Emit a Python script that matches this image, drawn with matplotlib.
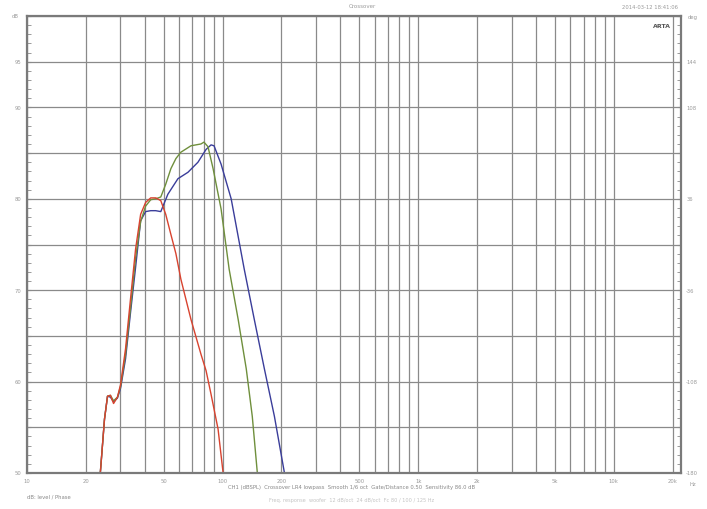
import matplotlib
matplotlib.use("Agg")
import matplotlib.pyplot as plt
from matplotlib.ticker import FixedLocator, NullFormatter, MultipleLocator

# Curvas (frecuencia en Hz, nivel en dB)
frec_rojo = [23.7, 24.9, 25.8, 26.7, 27.7, 29.0, 30.1, 31.9, 33.8, 35.9, 38.1, 40.4, 42.9,
             45.5, 48.3, 51.2, 54.4, 57.7, 61.2, 68.9, 77.5, 82.3, 87.3, 94.8, 100.6]
db_rojo = [50.0, 55.9, 58.4, 58.5, 57.6, 58.3, 59.7, 63.6, 69.0, 74.5, 78.3, 79.6, 80.1,
           80.1, 79.8, 78.3, 76.1, 74.0, 71.2, 66.8, 63.0, 61.2, 58.6, 54.8, 50.0]

frec_verde = [23.7, 24.9, 25.8, 26.7, 27.7, 29.0, 30.1, 31.9, 33.8, 35.9, 38.1, 40.4, 42.9,
              45.5, 48.3, 51.2, 54.4, 57.7, 61.2, 68.9, 77.5, 80.3, 84.2, 89.4, 98.2,
              108.0, 120.1, 132.1, 141.8, 150.5]
db_verde = [50.0, 55.9, 58.4, 58.5, 57.9, 58.3, 59.5, 63.0, 68.0, 73.5, 77.5, 79.2, 79.9,
            80.0, 80.2, 81.6, 83.3, 84.4, 85.1, 85.8, 86.0, 86.2, 85.7, 83.3, 78.9,
            72.3, 66.8, 61.4, 56.2, 50.0]

frec_azul = [23.7, 24.9, 25.8, 26.7, 27.7, 29.0, 30.1, 31.9, 33.8, 35.9, 38.1, 40.4, 42.9,
             45.5, 48.3, 52.5, 59.1, 66.5, 74.8, 82.3, 87.3, 90.4, 98.2, 110.6, 129.0,
             145.2, 163.5, 184.0, 207.1]
db_azul = [50.0, 55.9, 58.4, 58.3, 57.8, 58.2, 59.3, 62.5, 67.5, 72.5, 77.6, 78.6, 78.7,
           78.7, 78.6, 80.5, 82.2, 82.9, 84.0, 85.4, 85.9, 85.8, 83.8, 80.0, 72.3,
           66.8, 61.4, 56.2, 50.0]

# Etiquetas de los ejes
ticks_x = [10, 20, 50, 100, 200, 500, 1000, 2000, 5000, 10000, 20000]
etiquetas_x = ["10", "20", "50", "100", "200", "500", "1k", "2k", "5k", "10k", "20k"]
ticks_db = [95, 90, 80, 70, 60, 50]
ticks_fase = ["144", "108", "36", "-36", "-108", "-180"]

gris_grid = "#8a8a8a"
gris_texto = "#9a9a9a"

fig = plt.figure(figsize=(7.07, 5.10), dpi=100)
ax = fig.add_axes([27 / 707, 36 / 510, 654 / 707, 457 / 510])

ax.plot(frec_azul, db_azul, color="#3a3d9a", lw=1.0)
ax.plot(frec_verde, db_verde, color="#6f8f3c", lw=1.0)
ax.plot(frec_rojo, db_rojo, color="#d8432f", lw=1.0)

ax.set_xscale("log")
ax.set_xlim(10, 22050)
ax.set_ylim(50, 100)

# Rejilla logaritmica y divisiones de 5 dB
ax.xaxis.set_major_locator(FixedLocator([10, 100, 1000, 10000]))
ax.xaxis.set_minor_locator(FixedLocator([m * d for d in (10, 100, 1000, 10000) for m in range(2, 10)]))
ax.xaxis.set_major_formatter(NullFormatter())
ax.xaxis.set_minor_formatter(NullFormatter())
ax.yaxis.set_major_locator(MultipleLocator(5))
ax.yaxis.set_minor_locator(MultipleLocator(1))
ax.yaxis.set_major_formatter(NullFormatter())
ax.grid(True, which="major", color=gris_grid, lw=0.9)
ax.grid(True, which="minor", axis="x", color=gris_grid, lw=0.9)
ax.tick_params(axis="x", which="both", length=0)
ax.tick_params(axis="y", which="both", direction="in", length=3, color=gris_grid, left=True, right=True)
for s in ax.spines.values():
    s.set_color("#7a7a7a")
    s.set_linewidth(1.6)

# Textos de los ejes
for f, et in zip(ticks_x, etiquetas_x):
    ax.text(f, -0.012, et, transform=ax.get_xaxis_transform(), ha="center", va="top",
            fontsize=3.8, color=gris_texto)
for v, fase in zip(ticks_db, ticks_fase):
    ax.text(-0.008, v, str(v), transform=ax.get_yaxis_transform(), ha="right", va="center",
            fontsize=3.8, color=gris_texto)
    ax.text(1.008, v, fase, transform=ax.get_yaxis_transform(), ha="left", va="center",
            fontsize=3.8, color=gris_texto)

fig.text(12 / 707, 1 - 17 / 510, "dB", fontsize=3.8, color=gris_texto, va="center")
fig.text(688 / 707, 1 - 17 / 510, "deg", fontsize=3.8, color=gris_texto, va="center")
fig.text(690 / 707, 1 - 485 / 510, "Hz", fontsize=3.8, color=gris_texto, va="center")
fig.text(362 / 707, 1 - 7 / 510, "Crossover", fontsize=4, color=gris_texto, ha="center", va="center")
fig.text(650 / 707, 1 - 8 / 510, "2014-03-12 18:41:06", fontsize=3.8, color=gris_texto,
         ha="center", va="center")
ax.text(0.985, 0.985, "ARTA", transform=ax.transAxes, fontsize=4.5, fontweight="bold",
        color="#555555", ha="right", va="top")
fig.text(352 / 707, 1 - 488 / 510,
         "CH1 (dBSPL)  Crossover LR4 lowpass  Smooth 1/6 oct  Gate/Distance 0.50  Sensitivity 86.0 dB",
         fontsize=3.8, color="#888888", ha="center", va="center")
fig.text(352 / 707, 1 - 501 / 510,
         "Freq. response  woofer  12 dB/oct  24 dB/oct  Fc 80 / 100 / 125 Hz",
         fontsize=3.6, color="#c4c4c4", ha="center", va="center")
fig.text(27 / 707, 1 - 497 / 510, "dB: level / Phase", fontsize=3.8, color="#888888", va="center")

plt.savefig("out.png", dpi=100)
